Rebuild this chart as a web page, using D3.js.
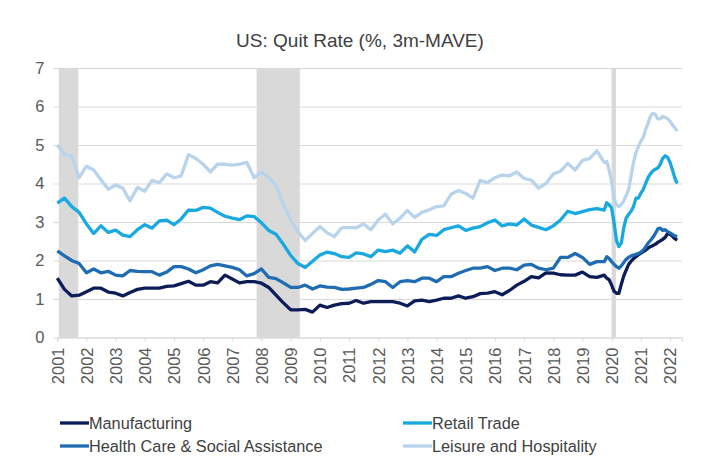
<!DOCTYPE html>
<html><head><meta charset="utf-8">
<script src="https://cdn.jsdelivr.net/npm/d3@7"></script>
<style>
body{margin:0;background:#fff}
text{font-family:"Liberation Sans",Arial,sans-serif}
</style>
</head><body>
<svg id="chart" width="720" height="473"></svg>
<script>
// ---- DATA ----
const title = "US: Quit Rate (%, 3m-MAVE)";
const seriesNames = ["Manufacturing", "Retail Trade", "Health Care & Social Assistance", "Leisure and Hospitality"];
const yTicks = [0, 1, 2, 3, 4, 5, 6, 7];
const yearTicks = d3.range(2001, 2023);
// quarterly observations 2001-01 .. 2019-07, then monthly 2019-10 .. 2022-04
const dates = d3.timeMonth.range(new Date(2001, 0, 1), new Date(2019, 8, 1), 3)
  .concat(d3.timeMonth.range(new Date(2019, 9, 1), new Date(2022, 4, 1)));
const manufacturing = [
  1.54,1.25,1.08,1.10, 1.19,1.28,1.28,1.18, 1.15,1.08,1.17,1.25, 1.28,1.28,1.28,1.33,
  1.34,1.40,1.46,1.36, 1.36,1.45,1.42,1.62, 1.52,1.42,1.45,1.45, 1.41,1.30,1.10,0.90,
  0.72,0.72,0.73,0.66, 0.84,0.78,0.84,0.88, 0.89,0.96,0.89,0.93, 0.93,0.93,0.93,0.89,
  0.82,0.95,0.97,0.93, 0.97,1.02,1.02,1.08, 1.02,1.06,1.14,1.15, 1.19,1.11,1.22,1.36,
  1.46,1.58,1.55,1.68, 1.67,1.63,1.62,1.62, 1.70,1.58,1.56,
  1.62,1.54,1.50,
  1.36,1.20,1.15,1.15,1.38,1.60,1.75,1.90,1.98,2.05,2.10,2.15,
  2.19,2.23,2.27,2.32,2.36,2.39,2.42,2.47,2.51,2.55,2.60,2.70,
  2.68,2.63,2.57,2.53];
const retail = [
  3.49,3.62,3.40,3.25, 2.95,2.70,2.90,2.73, 2.79,2.66,2.62,2.80, 2.93,2.84,3.03,3.05,
  2.93,3.08,3.31,3.30, 3.38,3.36,3.25,3.15, 3.10,3.06,3.16,3.14, 2.98,2.78,2.68,2.42,
  2.13,1.92,1.82,1.98, 2.14,2.22,2.18,2.10, 2.08,2.20,2.17,2.10, 2.27,2.23,2.27,2.19,
  2.38,2.22,2.55,2.68, 2.65,2.80,2.85,2.90, 2.78,2.84,2.88,2.98, 3.05,2.90,2.95,2.92,
  3.08,2.92,2.86,2.80, 2.90,3.05,3.28,3.22, 3.27,3.32,3.35,
  3.31,3.50,3.45,
  3.36,2.97,2.53,2.36,2.45,2.85,3.10,3.20,3.28,3.40,3.62,3.62,
  3.75,3.85,4.00,4.15,4.25,4.33,4.37,4.40,4.50,4.65,4.72,4.68,
  4.55,4.35,4.15,4.00];
const healthCare = [
  2.25,2.12,2.00,1.92, 1.68,1.78,1.68,1.72, 1.62,1.60,1.74,1.72, 1.71,1.71,1.62,1.70,
  1.84,1.84,1.78,1.68, 1.76,1.86,1.90,1.86, 1.82,1.76,1.60,1.66, 1.78,1.56,1.53,1.42,
  1.30,1.30,1.36,1.26, 1.34,1.31,1.30,1.25, 1.26,1.28,1.30,1.38, 1.48,1.45,1.30,1.45,
  1.48,1.45,1.54,1.54, 1.45,1.58,1.58,1.67, 1.74,1.80,1.80,1.84, 1.74,1.80,1.80,1.76,
  1.88,1.90,1.80,1.76, 1.80,2.08,2.08,2.18, 2.08,1.90,1.97,
  1.97,2.10,2.05,
  1.97,1.90,1.84,1.80,1.86,1.95,2.03,2.08,2.12,2.14,2.16,2.18,
  2.22,2.27,2.35,2.45,2.52,2.60,2.70,2.82,2.84,2.78,2.80,2.75,
  2.72,2.68,2.64,2.62];
const leisure = [
  5.00,4.75,4.72,4.15, 4.45,4.35,4.10,3.85, 3.96,3.88,3.55,3.90, 3.80,4.08,4.02,4.25,
  4.15,4.20,4.75,4.65, 4.50,4.30,4.50,4.50, 4.48,4.50,4.55,4.15, 4.30,4.15,3.95,3.45,
  3.05,2.75,2.52,2.70, 2.88,2.72,2.62,2.85, 2.86,2.85,2.95,2.80, 3.05,3.20,2.95,3.10,
  3.30,3.12,3.25,3.32, 3.40,3.42,3.72,3.82, 3.74,3.62,4.08,4.02, 4.15,4.22,4.20,4.30,
  4.13,4.09,3.88,4.00, 4.25,4.32,4.52,4.35, 4.60,4.65,4.85,
  4.55,4.57,4.35,
  4.05,3.60,3.45,3.40,3.45,3.55,3.68,3.85,4.20,4.55,4.80,4.96,
  5.10,5.20,5.40,5.56,5.75,5.82,5.80,5.68,5.68,5.74,5.72,5.68,
  5.62,5.52,5.45,5.36];
const recessionStarts = ["2001-01-20", "2007-11-01", "2020-01-01"];
const recessionEnds   = ["2001-09-20", "2009-04-25", "2020-02-24"];

// ---- STYLE ----
const colors = ["#0c1c58", "#19a9e1", "#1f6cb3", "#b8d3ec"];
const values = [manufacturing, retail, healthCare, leisure];
const svg = d3.select("#chart");
const pLeft = 57.3, pRight = 682, pTop = 68, pBottom = 337.5;

const x = d3.scaleTime()
  .domain([new Date(2001, 0, 1), new Date(2022, 4, 31)])
  .range([pLeft, pRight]);
const y = d3.scaleLinear().domain([0, 7]).range([pBottom, pTop]);
const parse = d3.timeParse("%Y-%m-%d");

// title
svg.append("text").attr("x", 360).attr("y", 47).attr("text-anchor", "middle")
  .attr("font-size", 19).attr("fill", "#404040").text(title);

// recession shading
svg.append("g").selectAll("rect").data(recessionStarts).join("rect")
  .attr("x", (d) => x(parse(d)))
  .attr("width", (d, i) => x(parse(recessionEnds[i])) - x(parse(d)))
  .attr("y", pTop).attr("height", pBottom - pTop).attr("fill", "#d9d9d9");

// y gridlines + labels
const yAxis = d3.axisLeft(y).tickValues(yTicks).tickSize(pRight - pLeft + 4).tickPadding(9)
  .tickFormat(d3.format("d"));
const gy = svg.append("g").attr("transform", `translate(${pRight},0)`).call(yAxis);
gy.select(".domain").remove();
gy.selectAll(".tick line").attr("stroke", "#d9d9d9");
gy.selectAll(".tick text").attr("font-size", 16.5).attr("fill", "#595959")
  .attr("font-family", '"Liberation Sans",Arial,sans-serif');

// x axis
const xAxis = d3.axisBottom(x).tickValues(yearTicks.map((yr) => new Date(yr, 0, 1)))
  .tickSize(4).tickFormat(d3.timeFormat("%Y"));
const gx = svg.append("g").attr("transform", `translate(0,${pBottom})`).call(xAxis);
gx.select(".domain").attr("stroke", "#d9d9d9");
gx.selectAll(".tick line").attr("stroke", "#d9d9d9");
gx.selectAll(".tick text")
  .attr("font-size", 16.5).attr("fill", "#595959")
  .attr("font-family", '"Liberation Sans",Arial,sans-serif')
  .attr("transform", "rotate(-90)")
  .attr("text-anchor", "end")
  .attr("x", -10).attr("y", 0).attr("dy", "0.36em");

// lines
const line = d3.line().x((d) => x(d[0])).y((d) => y(d[1]));
svg.append("g").selectAll("path").data(values).join("path")
  .attr("d", (vals) => line(vals.map((v, i) => [dates[i], v])))
  .attr("fill", "none")
  .attr("stroke", (d, i) => colors[i])
  .attr("stroke-width", 3.3)
  .attr("stroke-linejoin", "round");

// legend
const legendPos = [[60, 423], [403, 423], [60, 446], [403, 446]];
const lg = svg.append("g").selectAll("g").data(seriesNames).join("g")
  .attr("transform", (d, i) => `translate(${legendPos[i][0]},${legendPos[i][1]})`);
lg.append("line").attr("x1", 0).attr("x2", 29).attr("y1", 0).attr("y2", 0)
  .attr("stroke", (d, i) => colors[i]).attr("stroke-width", 3.3);
lg.append("text").attr("x", 29).attr("y", 0).attr("dy", "0.35em")
  .attr("font-size", 16.3).attr("fill", "#404040").text((d) => d);
</script>
</body></html>
